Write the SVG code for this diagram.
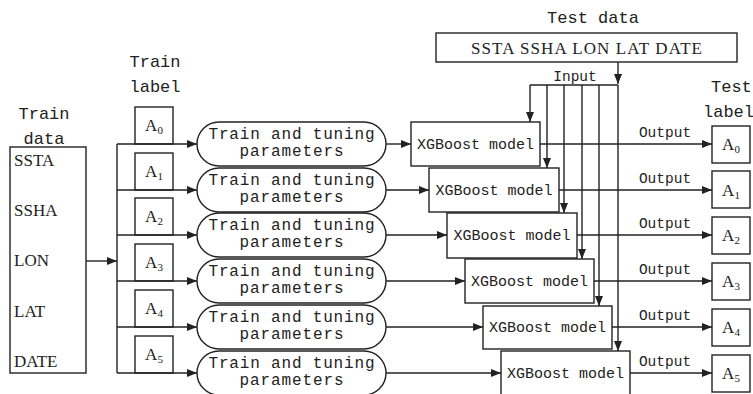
<svg xmlns="http://www.w3.org/2000/svg" width="753" height="394" viewBox="0 0 753 394">
<defs>
<marker id="ah" viewBox="0 0 10 8" refX="10" refY="4" markerWidth="11" markerHeight="8" markerUnits="userSpaceOnUse" orient="auto">
<path d="M0,0 L10,4 L0,8 z" fill="#222"/>
</marker>
</defs>
<style>
.box{fill:#fff;stroke:#222;stroke-width:1.4}
.ln{fill:none;stroke:#222;stroke-width:1.4}
.ar{fill:none;stroke:#222;stroke-width:1.4;marker-end:url(#ah)}
.mono{font-family:"Liberation Mono",monospace;fill:#222}
.serif{font-family:"Liberation Serif",serif;fill:#222}
.t17{font-size:17px}
.t16{font-size:16px}
.t15{font-size:15px}
.t14{font-size:14.5px}
.sub{font-size:11px}
</style>
<rect width="753" height="394" fill="#fff"/>

<!-- titles -->
<text class="mono t17" x="44" y="119" text-anchor="middle">Train</text>
<text class="mono t17" x="44" y="144" text-anchor="middle">data</text>
<text class="mono t17" x="155" y="67" text-anchor="middle">Train</text>
<text class="mono t17" x="155" y="92" text-anchor="middle">label</text>
<text class="mono t17" x="593" y="23" text-anchor="middle">Test data</text>
<text class="mono t17" x="711" y="92">Test</text>
<text class="mono t17" x="703" y="117">label</text>
<text class="mono t14" x="575" y="81" text-anchor="middle">Input</text>

<g id="train-data">
<rect class="box" x="10" y="147" width="76" height="226"/>
<text class="serif t17" x="14" y="166">SSTA</text>
<text class="serif t17" x="14" y="216">SSHA</text>
<text class="serif t17" x="14" y="266">LON</text>
<text class="serif t17" x="14" y="317">LAT</text>
<text class="serif t17" x="14" y="367">DATE</text>
</g>

<g id="test-data">
<rect class="box" x="436" y="33" width="301" height="29"/>
<text class="serif t17" x="586.5" y="54" text-anchor="middle" textLength="231" lengthAdjust="spacing">SSTA SSHA LON LAT DATE</text>
</g>

<!-- train labels -->
<g id="train-label-0"><rect class="box" x="135" y="107" width="38" height="37"/><text class="serif t17" x="154" y="131" text-anchor="middle">A<tspan class="sub" dy="3">0</tspan></text></g>
<g id="train-label-1"><rect class="box" x="135" y="153" width="38" height="37"/><text class="serif t17" x="154" y="177" text-anchor="middle">A<tspan class="sub" dy="3">1</tspan></text></g>
<g id="train-label-2"><rect class="box" x="135" y="198" width="38" height="37"/><text class="serif t17" x="154" y="222" text-anchor="middle">A<tspan class="sub" dy="3">2</tspan></text></g>
<g id="train-label-3"><rect class="box" x="135" y="244" width="38" height="37"/><text class="serif t17" x="154" y="268" text-anchor="middle">A<tspan class="sub" dy="3">3</tspan></text></g>
<g id="train-label-4"><rect class="box" x="135" y="290" width="38" height="37"/><text class="serif t17" x="154" y="314" text-anchor="middle">A<tspan class="sub" dy="3">4</tspan></text></g>
<g id="train-label-5"><rect class="box" x="135" y="336" width="38" height="37"/><text class="serif t17" x="154" y="360" text-anchor="middle">A<tspan class="sub" dy="3">5</tspan></text></g>

<!-- train and tuning -->
<g id="tune-0"><rect class="box" x="197" y="122" width="189" height="44" rx="22"/><text class="mono t16" x="291.5" y="139" text-anchor="middle" textLength="166">Train and tuning</text><text class="mono t16" x="291.5" y="156" text-anchor="middle" textLength="104">parameters</text></g>
<g id="tune-1"><rect class="box" x="197" y="168" width="189" height="44" rx="22"/><text class="mono t16" x="291.5" y="185" text-anchor="middle" textLength="166">Train and tuning</text><text class="mono t16" x="291.5" y="202" text-anchor="middle" textLength="104">parameters</text></g>
<g id="tune-2"><rect class="box" x="197" y="213" width="189" height="44" rx="22"/><text class="mono t16" x="291.5" y="230" text-anchor="middle" textLength="166">Train and tuning</text><text class="mono t16" x="291.5" y="247" text-anchor="middle" textLength="104">parameters</text></g>
<g id="tune-3"><rect class="box" x="197" y="259" width="189" height="44" rx="22"/><text class="mono t16" x="291.5" y="276" text-anchor="middle" textLength="166">Train and tuning</text><text class="mono t16" x="291.5" y="293" text-anchor="middle" textLength="104">parameters</text></g>
<g id="tune-4"><rect class="box" x="197" y="305" width="189" height="44" rx="22"/><text class="mono t16" x="291.5" y="322" text-anchor="middle" textLength="166">Train and tuning</text><text class="mono t16" x="291.5" y="339" text-anchor="middle" textLength="104">parameters</text></g>
<g id="tune-5"><rect class="box" x="197" y="351" width="189" height="44" rx="22"/><text class="mono t16" x="291.5" y="368" text-anchor="middle" textLength="166">Train and tuning</text><text class="mono t16" x="291.5" y="385" text-anchor="middle" textLength="104">parameters</text></g>

<!-- connectors -->
<g id="connectors">
<path class="ar" d="M86,261 H117"/>
<path class="ln" d="M117,144 V373"/>
<path class="ar" d="M117,144 H197"/>
<path class="ar" d="M117,190 H197"/>
<path class="ar" d="M117,235 H197"/>
<path class="ar" d="M117,281 H197"/>
<path class="ar" d="M117,327 H197"/>
<path class="ar" d="M117,373 H197"/>

<path class="ar" d="M386,144 H411"/>
<path class="ar" d="M386,190 H429"/>
<path class="ar" d="M386,235 H447"/>
<path class="ar" d="M386,281 H465"/>
<path class="ar" d="M386,327 H483"/>
<path class="ar" d="M386,373 H501"/>

<path class="ar" d="M618,62 V84"/>
<path class="ln" d="M530,85 H618"/>
<path class="ar" d="M530,85 V122"/>
<path class="ar" d="M547,85 V168"/>
<path class="ar" d="M564,85 V213"/>
<path class="ar" d="M582,85 V259"/>
<path class="ar" d="M599,85 V306"/>
<path class="ar" d="M618,85 V351"/>

<path class="ar" d="M540,144 H712"/>
<path class="ar" d="M559,190 H712"/>
<path class="ar" d="M577,235 H712"/>
<path class="ar" d="M594,281 H712"/>
<path class="ar" d="M612,327 H712"/>
<path class="ar" d="M630,373 H712"/>
<text class="mono t14" x="665" y="137" text-anchor="middle">Output</text>
<text class="mono t14" x="665" y="183" text-anchor="middle">Output</text>
<text class="mono t14" x="665" y="228" text-anchor="middle">Output</text>
<text class="mono t14" x="665" y="274" text-anchor="middle">Output</text>
<text class="mono t14" x="665" y="320" text-anchor="middle">Output</text>
<text class="mono t14" x="665" y="366" text-anchor="middle">Output</text>
</g>

<!-- XGBoost models -->
<g id="xgb-0"><rect class="box" x="411" y="122" width="129" height="44"/><text class="mono t15" x="475.5" y="149" text-anchor="middle">XGBoost model</text></g>
<g id="xgb-1"><rect class="box" x="429" y="168" width="130" height="44"/><text class="mono t15" x="494" y="195" text-anchor="middle">XGBoost model</text></g>
<g id="xgb-2"><rect class="box" x="447" y="213" width="130" height="45"/><text class="mono t15" x="512" y="240" text-anchor="middle">XGBoost model</text></g>
<g id="xgb-3"><rect class="box" x="465" y="259" width="129" height="44"/><text class="mono t15" x="529.5" y="286" text-anchor="middle">XGBoost model</text></g>
<g id="xgb-4"><rect class="box" x="483" y="306" width="129" height="43"/><text class="mono t15" x="547.5" y="332" text-anchor="middle">XGBoost model</text></g>
<g id="xgb-5"><rect class="box" x="501" y="351" width="129" height="44"/><text class="mono t15" x="565.5" y="378" text-anchor="middle">XGBoost model</text></g>

<!-- test labels -->
<g id="test-label-0"><rect class="box" x="712" y="126" width="38" height="37"/><text class="serif t17" x="731" y="150" text-anchor="middle">A<tspan class="sub" dy="3">0</tspan></text></g>
<g id="test-label-1"><rect class="box" x="712" y="171" width="38" height="37"/><text class="serif t17" x="731" y="196" text-anchor="middle">A<tspan class="sub" dy="3">1</tspan></text></g>
<g id="test-label-2"><rect class="box" x="712" y="217" width="38" height="37"/><text class="serif t17" x="731" y="241" text-anchor="middle">A<tspan class="sub" dy="3">2</tspan></text></g>
<g id="test-label-3"><rect class="box" x="712" y="263" width="38" height="37"/><text class="serif t17" x="731" y="287" text-anchor="middle">A<tspan class="sub" dy="3">3</tspan></text></g>
<g id="test-label-4"><rect class="box" x="712" y="309" width="38" height="37"/><text class="serif t17" x="731" y="333" text-anchor="middle">A<tspan class="sub" dy="3">4</tspan></text></g>
<g id="test-label-5"><rect class="box" x="712" y="355" width="38" height="37"/><text class="serif t17" x="731" y="379" text-anchor="middle">A<tspan class="sub" dy="3">5</tspan></text></g>
</svg>
